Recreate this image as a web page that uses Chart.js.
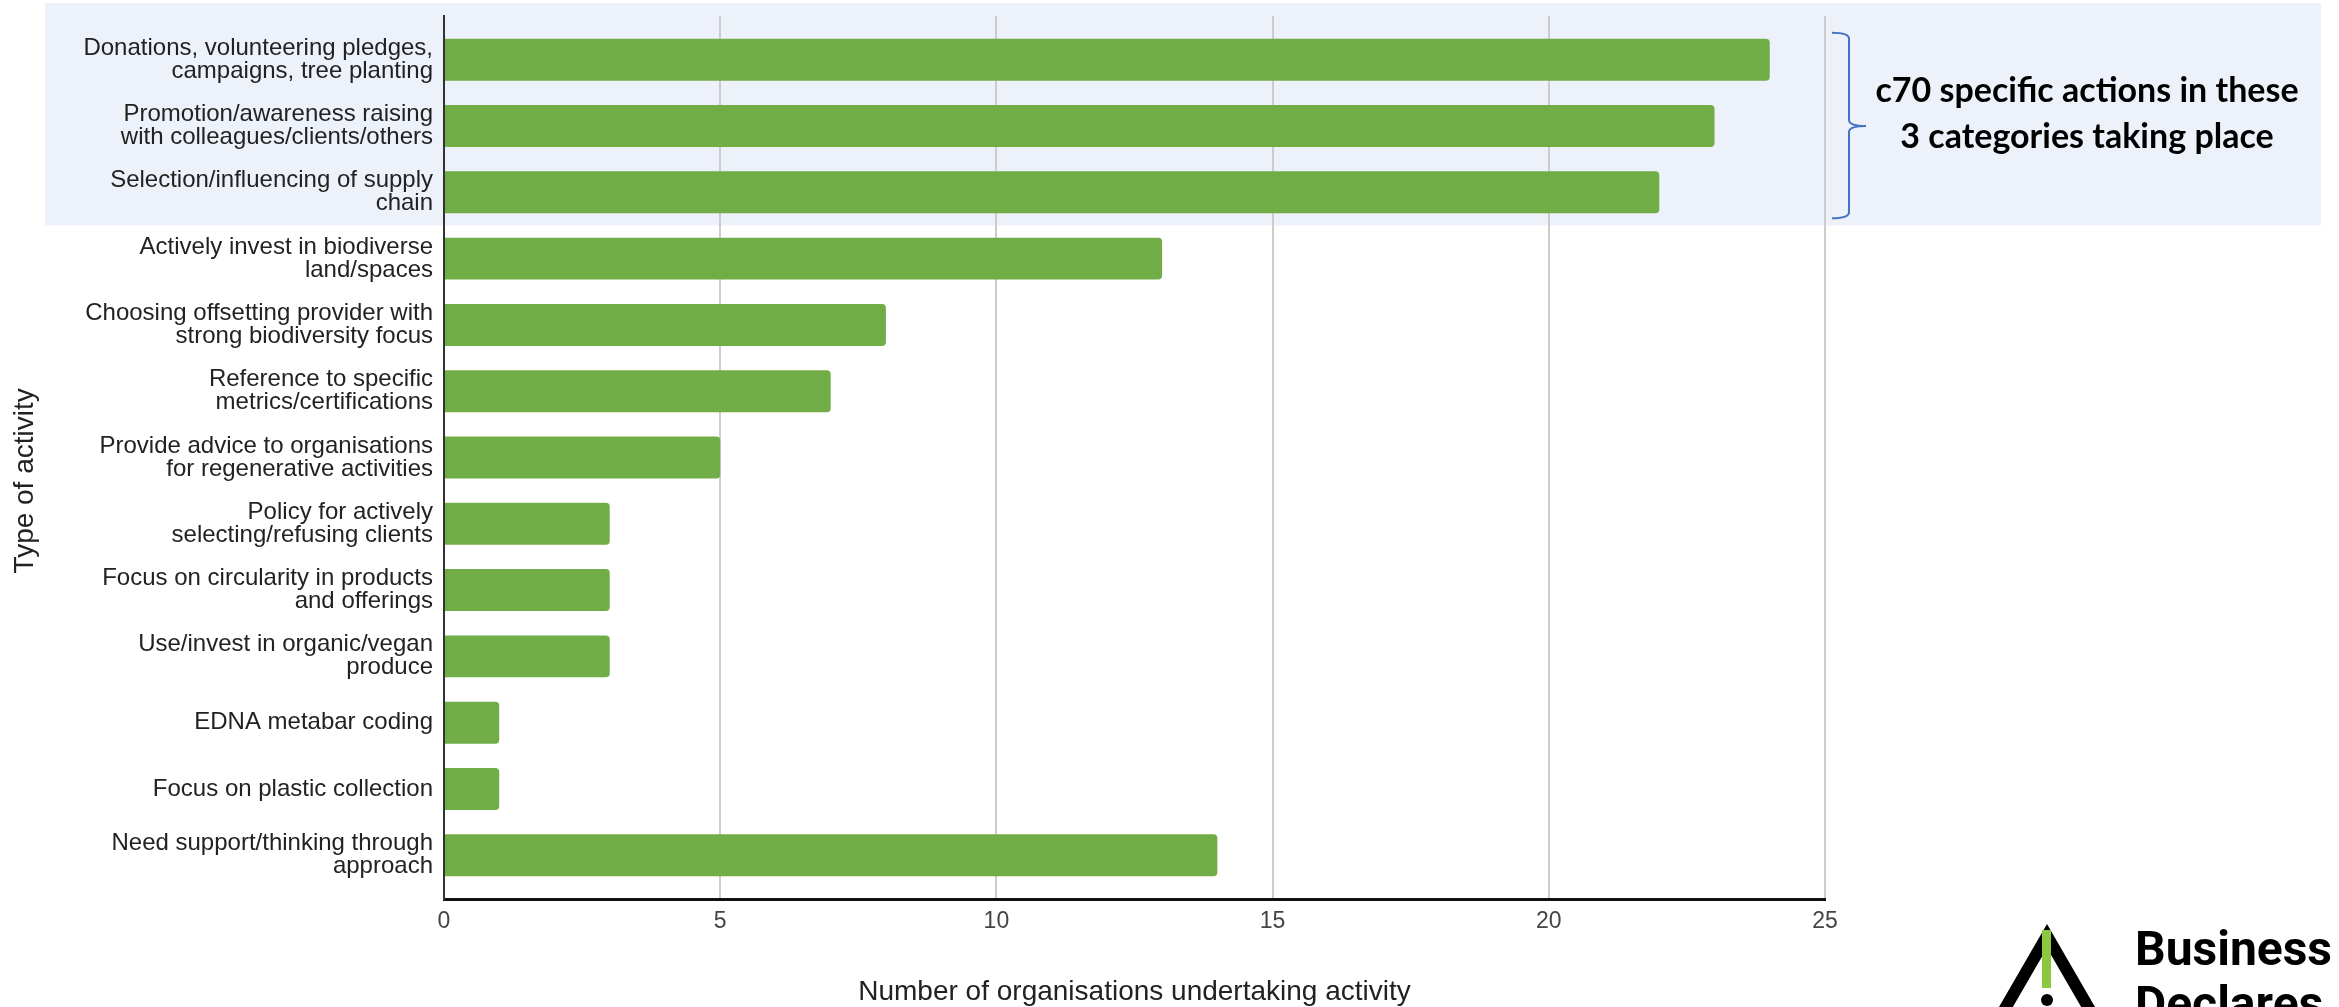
<!DOCTYPE html>
<html>
<head>
<meta charset="utf-8">
<title>Type of activity</title>
<script src="https://cdn.jsdelivr.net/npm/chart.js@4/dist/chart.umd.min.js"></script>
<style>
  html, body { margin: 0; padding: 0; background: #ffffff; }
  #wrap { position: relative; width: 2339px; height: 1007px; }
</style>
</head>
<body>
<div id="wrap"><canvas id="chart" width="2339" height="1007"></canvas></div>
<script>
// Activity categories (one array entry per tick label line)
const categories = [
  ['Donations, volunteering pledges,', 'campaigns, tree planting'],
  ['Promotion/awareness raising', 'with colleagues/clients/others'],
  ['Selection/influencing of supply', 'chain'],
  ['Actively invest in biodiverse', 'land/spaces'],
  ['Choosing offsetting provider with', 'strong biodiversity focus'],
  ['Reference to specific', 'metrics/certifications'],
  ['Provide advice to organisations', 'for regenerative activities'],
  ['Policy for actively', 'selecting/refusing clients'],
  ['Focus on circularity in products', 'and offerings'],
  ['Use/invest in organic/vegan', 'produce'],
  ['EDNA metabar coding'],
  ['Focus on plastic collection'],
  ['Need support/thinking through', 'approach']
];

// Number of organisations undertaking each activity
const organisations = [24, 23, 22, 13, 8, 7, 5, 3, 3, 3, 1, 1, 14];

// Value axis ticks
const valueTicks = [0, 5, 10, 15, 20, 25];

// Titles and annotation text
const xTitle = 'Number of organisations undertaking activity';
const yTitle = 'Type of activity';
const noteLines = ['c70 specific actions in these', '3 categories taking place'];
const highlightedCount = 3;
const logoLines = ['Business', 'Declares'];

const FONT = "'Liberation Sans', Arial, sans-serif";
Chart.defaults.font.family = FONT;

// Shaded panel behind the first highlighted categories
const highlightPanel = {
  id: 'highlightPanel',
  beforeDraw(chart) {
    const { ctx } = chart;
    const y = chart.scales.y;
    const bottom = y.getPixelForValue(highlightedCount - 0.5);
    ctx.save();
    ctx.fillStyle = '#EDF2FA';
    ctx.fillRect(45, 3, 2321 - 45, bottom - 3);
    ctx.restore();
  }
};

// Curly brace and note for the highlighted group, plus the logo
const annotations = {
  id: 'annotations',
  afterDraw(chart) {
    const { ctx } = chart;
    const y = chart.scales.y;
    const x = chart.scales.x;
    const top = y.getPixelForValue(0) - 27;
    const bot = y.getPixelForValue(highlightedCount - 1) + 26;
    const mid = y.getPixelForValue((highlightedCount - 1) / 2);
    const x0 = x.right + 7;
    const xv = x0 + 17;
    const xt = xv + 17;

    ctx.save();
    ctx.strokeStyle = '#4472C4';
    ctx.lineWidth = 2;
    ctx.beginPath();
    ctx.moveTo(x0, top);
    ctx.quadraticCurveTo(xv, top, xv, top + 6);
    ctx.lineTo(xv, mid - 6);
    ctx.quadraticCurveTo(xv, mid, xt, mid);
    ctx.quadraticCurveTo(xv, mid, xv, mid + 6);
    ctx.lineTo(xv, bot - 6);
    ctx.quadraticCurveTo(xv, bot, x0, bot);
    ctx.stroke();

    ctx.fillStyle = '#000000';
    ctx.font = "bold 34px Lato, 'Open Sans', sans-serif";
    ctx.textAlign = 'center';
    ctx.textBaseline = 'middle';
    ctx.fillText(noteLines[0], 2087, mid - 35);
    ctx.fillText(noteLines[1], 2087, mid + 11);
    ctx.restore();

    // Logo: open triangle with a green exclamation mark
    ctx.save();
    ctx.strokeStyle = '#000000';
    ctx.lineWidth = 12;
    ctx.lineJoin = 'miter';
    ctx.beginPath();
    ctx.moveTo(2003, 1012);
    ctx.lineTo(2047, 936);
    ctx.lineTo(2091, 1012);
    ctx.stroke();
    ctx.fillStyle = '#8DC63F';
    ctx.fillRect(2042, 930, 9, 58);
    ctx.fillStyle = '#000000';
    ctx.beginPath();
    ctx.arc(2047, 1000, 6, 0, Math.PI * 2);
    ctx.fill();
    ctx.font = "bold 48px Roboto, 'Liberation Sans', sans-serif";
    ctx.textAlign = 'left';
    ctx.textBaseline = 'alphabetic';
    ctx.fillText(logoLines[0], 2135, 965);
    ctx.fillText(logoLines[1], 2135, 1020);
    ctx.restore();
  }
};

new Chart(document.getElementById('chart'), {
  type: 'bar',
  data: {
    datasets: [{
      data: organisations.map((v, i) => ({ x: v, y: i })),
      backgroundColor: '#70AD47',
      borderWidth: 0,
      borderRadius: 4,
      borderSkipped: 'start',
      categoryPercentage: 1,
      barPercentage: 0.633
    }]
  },
  options: {
    indexAxis: 'y',
    responsive: false,
    animation: false,
    events: [],
    layout: { padding: { top: 16, right: 514, bottom: 0, left: 0 } },
    plugins: { legend: { display: false }, tooltip: { enabled: false } },
    scales: {
      x: {
        type: 'linear',
        position: 'bottom',
        min: valueTicks[0],
        max: valueTicks[valueTicks.length - 1],
        afterBuildTicks: s => { s.ticks = valueTicks.map(v => ({ value: v })); },
        afterFit: s => { s.height = 108; s.paddingLeft = 0; s.paddingRight = 0; },
        grid: {
          color: c => (c.tick && c.tick.value === 0 ? 'rgba(0,0,0,0)' : '#CCCCCC'),
          lineWidth: 2,
          drawTicks: false
        },
        border: { display: true, color: '#111111', width: 3 },
        ticks: { color: '#444444', font: { size: 23 }, padding: 9 },
        title: {
          display: true,
          text: xTitle,
          color: '#222222',
          font: { size: 28 },
          padding: { top: 0, bottom: -2 }
        }
      },
      y: {
        type: 'linear',
        reverse: true,
        offset: false,
        min: -0.66,
        max: categories.length - 1 + 0.66,
        afterBuildTicks: s => { s.ticks = categories.map((_, i) => ({ value: i })); },
        afterFit: s => { s.width = 444; s.paddingTop = 0; s.paddingBottom = 0; },
        grid: { display: false },
        border: { display: true, color: '#333333', width: 2 },
        ticks: {
          autoSkip: false,
          color: '#222222',
          font: { size: 24, lineHeight: '23px' },
          padding: 3,
          callback: v => categories[v]
        },
        title: {
          display: true,
          text: yTitle + '      ',
          color: '#222222',
          font: { size: 28 },
          padding: { top: 8, bottom: 0 }
        }
      }
    }
  },
  plugins: [highlightPanel, annotations]
});
</script>
</body>
</html>
